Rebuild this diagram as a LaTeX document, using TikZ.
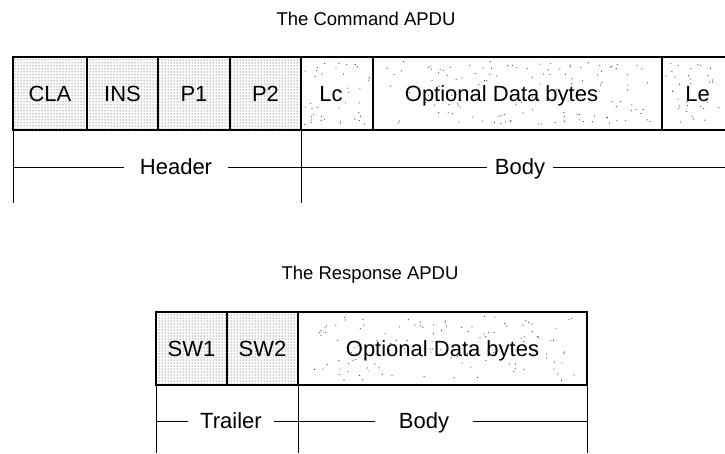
\documentclass[tikz,border=0pt]{standalone}
\usepackage{fontspec}
\setmainfont{Liberation Sans}
\usetikzlibrary{patterns,positioning,calc}

% scattered specks for the body cells
\newcommand\speckle[2]{%
  \foreach \k in {1,...,#2}{%
    \path ($(#1.south west)!0.04+0.92*rnd!(#1.south east)$) coordinate (sx)
          ($(#1.south west)!0.06+0.88*rnd!(#1.north west)$) coordinate (sy);
    \fill[black!75] (sx |- sy) circle (0.6pt);
  }}

\tikzset{
  cell/.style={minimum height=73pt, inner sep=0pt, outer sep=0pt,
    text height=15.8pt, text depth=0pt,
    font=\fontsize{22}{26}\selectfont},
  hdrcell/.style={cell, draw, line width=1.4pt, pattern=dots, pattern color=black!85},
  datacell/.style={cell, draw, line width=1.4pt},
  span/.style={line width=0.9pt},
  spantext/.style={inner ysep=0pt, text height=15.8pt, text depth=0pt,
    font=\fontsize{22}{26}\selectfont},
  title/.style={font=\fontsize{18.5}{22}\selectfont}
}

\begin{document}
\begin{tikzpicture}[x=1pt, y=-1pt]
    \useasboundingbox[fill=white] (0,0) rectangle (725,453);
    \pgfmathsetseed{17}

    % command APDU
    \node[title] (cmdtitle) at (366,19) {The Command APDU};
    \node[hdrcell, minimum width=74pt, anchor=north west] (cla) at (13,57) {CLA};
    \node[hdrcell, minimum width=71pt, right=0pt of cla] (ins) {INS};
    \node[hdrcell, minimum width=72pt, right=0pt of ins] (p1) {P1};
    \node[hdrcell, minimum width=71pt, right=0pt of p1] (p2) {P2};
    \node[datacell, minimum width=72pt, right=0pt of p2] (lc) {};
    \node[datacell, minimum width=289pt, right=0pt of lc] (cmddata) {};
    \node[cell, minimum width=63pt, right=0pt of cmddata] (le) {};
    \speckle{lc}{40}
    \speckle{cmddata}{130}
    \speckle{le}{35}
    \node[cell, xshift=-6pt] at (lc) {Lc};
    \node[cell, xshift=-16pt] at (cmddata) {Optional Data bytes};
    \node[cell, xshift=4pt] at (le) {Le};
    \draw[line width=1.4pt] (le.north east) -- (le.north west) -- (le.south west) -- (le.south east);
    \draw[line width=2pt] (le.north east) -- (cla.north west) -- (cla.south west) -- (le.south east);

    \coordinate (cmdbase) at (0,203);
    \coordinate (cmdend) at (725,167);
    \node[spantext, inner xsep=16pt] (cmdhdr) at (176,167) {Header};
    \node[spantext, inner xsep=8pt] (cmdbody) at (520,167) {Body};
    \draw[span] (cla.south west |- cmdhdr) -- (cmdhdr.west);
    \draw[span] (cmdhdr.east) -- (cmdbody.west);
    \draw[span] (cmdbody.east) -- (cmdend);
    \draw[span] (cla.south west) -- (cla.south west |- cmdbase);
    \draw[span] (p2.south east) -- (p2.south east |- cmdbase);

    % response APDU
    \node[title] (rsptitle) at (370,275) {The Response APDU};
    \node[hdrcell, minimum width=71pt, anchor=north west] (sw1) at (156,312) {SW1};
    \node[hdrcell, minimum width=71pt, right=0pt of sw1] (sw2) {SW2};
    \node[datacell, minimum width=289pt, right=0pt of sw2] (rspdata) {};
    \speckle{rspdata}{130}
    \node[cell] at (rspdata) {Optional Data bytes};
    \draw[line width=2pt] (sw1.north west) rectangle (rspdata.south east);

    \coordinate (rspbase) at (0,453);
    \node[spantext, inner xsep=12pt] (rsptrl) at (231,421) {Trailer};
    \node[spantext, inner xsep=24pt] (rspbody) at (424,421) {Body};
    \draw[span] (sw1.south west |- rsptrl) -- (rsptrl.west);
    \draw[span] (rsptrl.east) -- (rspbody.west);
    \draw[span] (rspbody.east) -- (rspdata.south east |- rspbody);
    \draw[span] (sw1.south west) -- (sw1.south west |- rspbase);
    \draw[span] (sw2.south east) -- (sw2.south east |- rspbase);
    \draw[span] (rspdata.south east) -- (rspdata.south east |- rspbase);
\end{tikzpicture}
\end{document}
